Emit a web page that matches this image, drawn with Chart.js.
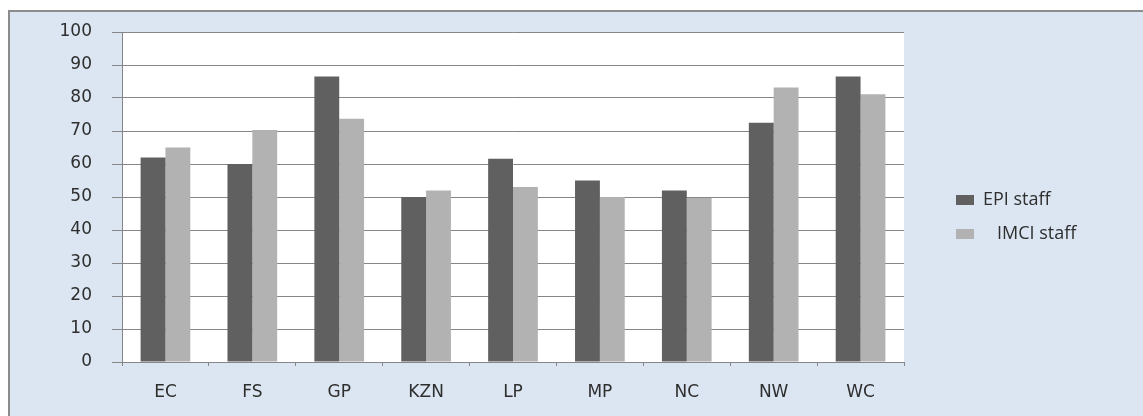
<!DOCTYPE html>
<html>
<head>
<meta charset="utf-8">
<script src="https://cdn.jsdelivr.net/npm/chart.js@4.4.1/dist/chart.umd.min.js"></script>
<style>
  html, body { margin: 0; padding: 0; background: #fff; overflow: hidden; }
  #frame {
    position: absolute; left: 8px; top: 10px; width: 1140px; height: 410px;
    background: #dce6f2; border-left: 2px solid #8c8c8c; border-top: 2px solid #8c8c8c;
  }
  #chart { position: absolute; left: 0; top: 0; }
</style>
</head>
<body>
<div id="frame"></div>
<canvas id="chart" width="1143" height="416"></canvas>
<script>
const provinces = ['EC', 'FS', 'GP', 'KZN', 'LP', 'MP', 'NC', 'NW', 'WC'];
const epiStaff = [62, 60, 86.5, 50, 61.6, 55, 52, 72.5, 86.5];
const imciStaff = [65, 70.3, 73.7, 52, 53, 50, 49.7, 83.2, 81.1];
const seriesNames = ['EPI staff', '   IMCI staff'];
const yMin = 0, yMax = 100, yStep = 10;

const gridGrey = '#868686';
const tickFont = { family: 'DejaVu Sans', size: 17 };

// white plot area on the blue frame
const plotBackground = {
  id: 'plotBackground',
  beforeDraw(chart) {
    const { ctx, chartArea: a } = chart;
    ctx.save();
    ctx.fillStyle = '#ffffff';
    ctx.fillRect(a.left, a.top, a.right - a.left, a.bottom - a.top);
    ctx.restore();
    // legend sits a bit off the plot edge, like the original
    const shift = chart.chartArea.right + 36 - chart.legend.left;
    chart.legend.left += shift;
    chart.legend.right += shift;
  }
};

const ctx = document.getElementById('chart').getContext('2d');
const chart = new Chart(ctx, {
  type: 'bar',
  data: {
    labels: provinces,
    datasets: [
      { label: seriesNames[0], data: epiStaff, backgroundColor: '#606060' },
      { label: seriesNames[1], data: imciStaff, backgroundColor: '#b2b2b2' }
    ]
  },
  options: {
    responsive: false,
    animation: false,
    categoryPercentage: 0.572,
    barPercentage: 1.0,
    layout: { padding: { top: 32, bottom: 14, left: 0, right: 100 } },
    scales: {
      x: {
        grid: { offset: true, drawOnChartArea: false, drawTicks: true, tickLength: 4, color: gridGrey },
        border: { display: true, color: gridGrey },
        ticks: { font: tickFont, color: '#2e2e2e', padding: 16 },
        afterFit: (s) => { s.height = 40; }
      },
      y: {
        min: yMin,
        max: yMax,
        grid: { color: gridGrey, tickLength: 10 },
        border: { display: true, color: gridGrey },
        ticks: { stepSize: yStep, font: tickFont, color: '#2e2e2e', padding: 20 },
        afterFit: (s) => { s.width = 122; }
      }
    },
    plugins: {
      tooltip: { enabled: false },
      legend: {
        position: 'right',
        labels: {
          boxWidth: 18,
          boxHeight: 10,
          padding: 16,
          color: '#2e2e2e',
          font: { family: 'Open Sans', size: 18 }
        }
      }
    }
  },
  plugins: [plotBackground]
});

// make the plot end where the original one does
chart.options.layout.padding.right = 1143 - 904 - chart.legend.width;
chart.update();
</script>
</body>
</html>
